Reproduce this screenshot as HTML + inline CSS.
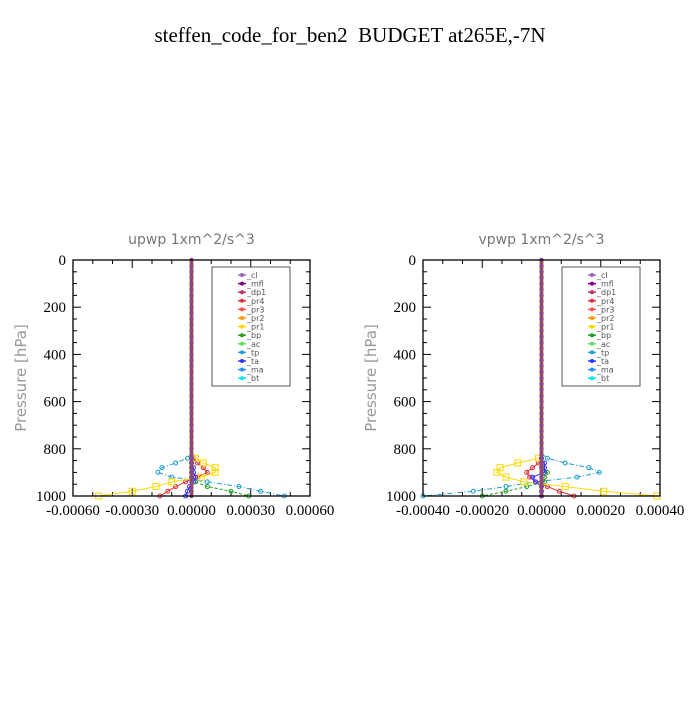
<!DOCTYPE html>
<html><head><meta charset="utf-8"><style>
body{margin:0;background:#fff;width:700px;height:700px;overflow:hidden}
svg text{font-family:"Liberation Serif",serif}
.sans{font-family:"DejaVu Sans","Liberation Sans",sans-serif}
</style></head><body>
<svg id="svg" width="700" height="700" viewBox="0 0 700 700">
<rect width="700" height="700" fill="#fff"/>
<text x="350" y="42" text-anchor="middle" font-size="21" xml:space="preserve">steffen_code_for_ben2  BUDGET at265E,-7N</text>
</svg>
<script>
// data
const pAll=[0,25,50,75,100,125,150,175,200,225,250,275,300,325,350,375,400,425,450,475,500,525,550,575,600,625,650,675,700,725,750,775,800,825];
const pLow=[840,860,880,900,920,940,960,980,1000];
const seriesNames=["_cl","_mfl","_dp1","_pr4","_pr3","_pr2","_pr1","_bp","_ac","_tp","_ta","_ma","_bt"];
const seriesColors=["#9467bd","#800080","#c0305a","#e0303a","#ff5050","#ff9900","#ffd700","#20a020","#60e060","#1f9fcf","#3030ff","#1f8fff","#00e5ee"];
// left panel (units 1e-4)
const L_pr1=[0.2,0.6,1.2,1.2,0.5,-1.0,-1.8,-3.0,-4.7];
const L_pr4=[0.1,0.3,0.6,0.8,0.3,-0.3,-0.8,-1.2,-1.6];
const L_tp=[-0.2,-0.8,-1.5,-1.7,-1.0,0.8,2.4,3.5,4.7];
const L_bp=[0,0,0,0,0,0.2,0.8,2.0,2.9];
const L_ta=[0,0,0.1,0.1,0.2,0.1,-0.1,-0.2,-0.3];
// right panel (units 1e-4)
const R_pr1=[-0.1,-0.8,-1.4,-1.5,-1.2,-0.6,0.8,2.1,3.9];
const R_pr4=[0,-0.1,-0.3,-0.5,-0.4,-0.2,0.2,0.6,1.1];
const R_tp=[0.2,0.8,1.6,1.95,1.2,-0.2,-1.2,-2.3,-4.0];
const R_bp=[0,0,0,0.2,0.1,0.1,-0.5,-1.2,-2.0];
const R_ta=[0,0.1,0.1,0.1,-0.3,-0.2,0,0,0];
const L_xticks=["-0.00060","-0.00030","0.00000","0.00030","0.00060"];
const R_xticks=["-0.00040","-0.00020","0.00000","0.00020","0.00040"];
const yticks=[0,200,400,600,800,1000];

const NS="http://www.w3.org/2000/svg";
const svg=document.getElementById('svg');
function mk(tag,attrs,parent){const e=document.createElementNS(NS,tag);for(const k in attrs)e.setAttribute(k,attrs[k]);(parent||svg).appendChild(e);return e;}

function panel(x0,label,xmax,xticks,series){
  const g=mk('g',{});
  
  
  const X0=x0,X1=x0+237,Y0=260,Y1=496;
  const sx=v=>X0+(v*1e-4+xmax)/(2*xmax)*(X1-X0);
  const sy=p=>Y0+p/1000*(Y1-Y0);
  const t=mk('text',{x:(X0+X1)/2,y:244,'text-anchor':'middle','font-size':14,fill:'#777',class:'sans','xml:space':'preserve'},g);
  t.textContent=label+"   1xm^2/s^3";
  
  
  const yt=mk('text',{transform:`translate(${X0-47},${(Y0+Y1)/2}) rotate(-90)`,'text-anchor':'middle','font-size':15,fill:'#999',class:'sans','xml:space':'preserve'},g);
  yt.textContent="Pressure  [hPa]";
  
  
  for(let p=0;p<=1000;p+=50){const major=p%200===0;const len=major?8:4;
    mk('line',{x1:X0,x2:X0+len,y1:sy(p),y2:sy(p),stroke:'#000'},g);
    mk('line',{x1:X1,x2:X1-len,y1:sy(p),y2:sy(p),stroke:'#000'},g);}
  yticks.forEach(p=>{const tt=mk('text',{x:X0-7,y:sy(p)+5,'text-anchor':'end','font-size':15},g);tt.textContent=p;
    });
  for(let i=0;i<=12;i++){const xx=X0+i*(X1-X0)/12;const major=i%3===0;const len=major?8:4;
    mk('line',{x1:xx,x2:xx,y1:Y1,y2:Y1-len,stroke:'#000'},g);
    mk('line',{x1:xx,x2:xx,y1:Y0,y2:Y0+len,stroke:'#000'},g);}
  xticks.forEach((s,i)=>{const tt=mk('text',{x:X0+i*(X1-X0)/4,y:Y1+19,'text-anchor':'middle','font-size':15},g);tt.textContent=s;
    });
  series.forEach(s=>{
    const pts=pLow.map((p,i)=>sx(s.v[i])+','+sy(p)).join(' ');
    const pl=mk('polyline',{points:sx(0)+','+sy(820)+' '+pts,fill:'none',stroke:s.c,'stroke-width':1,'stroke-dasharray':s.d||''},g);
    
    
    pLow.forEach((p,i)=>{
      if(s.sq) mk('rect',{x:sx(s.v[i])-3,y:sy(p)-3,width:6,height:6,fill:'none',stroke:s.c},g);
      else mk('circle',{cx:sx(s.v[i]),cy:sy(p),r:2,fill:'none',stroke:s.c},g);
    });
  });
  mk('line',{x1:sx(0),x2:sx(0),y1:Y0,y2:Y1,stroke:'#e08020','stroke-width':4},g);
  mk('line',{x1:sx(0),x2:sx(0),y1:Y0,y2:Y1,stroke:'#7a3a8a','stroke-width':2.5},g);
  pAll.concat(pLow).forEach(p=>mk('circle',{cx:sx(0),cy:sy(p),r:2.2,fill:'#8a4a8a'},g));
  mk('rect',{x:X0,y:Y0,width:X1-X0,height:Y1-Y0,fill:'none',stroke:'#000','stroke-width':1.3},g);
  const lg=mk('g',{},g);
  
  
  mk('rect',{x:X0+139,y:267,width:78,height:119,fill:'#fff',stroke:'#555'},lg);
  seriesNames.forEach((n,i)=>{
    const y=275+i*8.6;
    mk('line',{x1:X0+165,x2:X0+173,y1:y,y2:y,stroke:seriesColors[i],'stroke-width':1.5},lg);
    mk('circle',{cx:X0+169,cy:y,r:2,fill:seriesColors[i]},lg);
    const tt=mk('text',{x:X0+174,y:y+3,'font-size':8,fill:'#555',class:'sans'},lg);
    tt.textContent=n;
    
    
  });
}
panel(73,'upwp',0.0006,L_xticks,[
  {n:'_bp',v:L_bp,c:'#20a020',d:'3,2'},{n:'_tp',v:L_tp,c:'#1f9fcf',d:'5,2,1,2'},
  {n:'_pr4',v:L_pr4,c:'#e0303a'},{n:'_pr1',v:L_pr1,c:'#ffd700',sq:true},{n:'_ta',v:L_ta,c:'#3030ff'}]);
panel(423,'vpwp',0.0004,R_xticks,[
  {n:'_bp',v:R_bp,c:'#20a020',d:'3,2'},{n:'_tp',v:R_tp,c:'#1f9fcf',d:'5,2,1,2'},
  {n:'_pr4',v:R_pr4,c:'#e0303a'},{n:'_pr1',v:R_pr1,c:'#ffd700',sq:true},{n:'_ta',v:R_ta,c:'#3030ff'}]);
</script>
</body></html>
